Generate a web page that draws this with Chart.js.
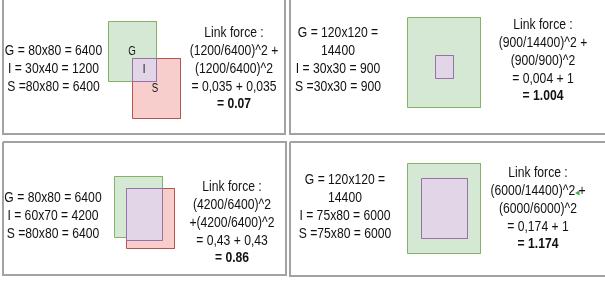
<html>
<head>
  <style>
    body { margin: 0; background: #fff; }
    #diagram { display: block; }
  </style>
</head>
<body>
  <canvas id="diagram" width="605" height="285"></canvas>

  <script src="https://cdn.jsdelivr.net/npm/chart.js"></script>
  <script>
    // rectangles [x0, y0, x1, y1] per panel, in picture units
    const rectG = [[108.5, 21.5, 156.5, 81.5], [407.5, 17.5, 480.5, 107.5], [114.5, 176.5, 162.5, 237.5], [407.5, 163.5, 480.5, 253.5]];
    const rectS = [[132.5, 58.5, 180.5, 118.5], null, [126.5, 188.5, 174.5, 248.5], null];
    const rectI = [[132.5, 58.5, 156.5, 81.5], [435.5, 55.5, 453.5, 78.5], [126.5, 188.5, 162.5, 240.5], [421.5, 178.5, 467.5, 238.5]];

    // box edges of the four panels
    const panelBoxes = [[3, -1, 285, 134], [290, -1, 610, 134], [3, 142, 286, 275], [290, 142, 610, 276]];

    // small green marker left in the last panel
    const cursorMark = [{ x: 578, y: 193 }];

    // text of each panel
    const sizeLines = [
      ['G = 80x80 = 6400', 'I = 30x40 = 1200', 'S =80x80 = 6400'],
      ['G = 120x120 =', '14400', 'I = 30x30 = 900', 'S =30x30 = 900'],
      ['G = 80x80 = 6400', 'I = 60x70 = 4200', 'S =80x80 = 6400'],
      ['G = 120x120 =', '14400', 'I = 75x80 = 6000', 'S =75x80 = 6000']
    ];
    const forceLines = [
      ['Link force :', '(1200/6400)^2 +', '(1200/6400)^2', '= 0,035 + 0,035'],
      ['Link force :', '(900/14400)^2 +', '(900/900)^2', '= 0,004 + 1'],
      ['Link force :', '(4200/6400)^2', '+(4200/6400)^2', '= 0,43 + 0,43'],
      ['Link force :', '(6000/14400)^2 +', '(6000/6000)^2', '= 0,174 + 1']
    ];
    const results = ['= 0.07', '= 1.004', '= 0.86', '= 1.174'];
    const shapeLabels = ['G', 'I', 'S'];

    // where each text block starts (centre x, first line middle y)
    const sizeAnchor = [[53.5, 51], [338, 33], [53, 198], [345, 180]];
    const forceAnchor = [[234, 33], [543, 25], [232, 187], [538, 173]];
    const labelAnchor = [[132, 52], [144, 70], [155, 89]];
    const lineGap = 17.8;

    const toPoly = r => [
      { x: r[0], y: r[1] }, { x: r[2], y: r[1] }, { x: r[2], y: r[3] },
      { x: r[0], y: r[3] }, { x: r[0], y: r[1] }
    ];

    const datasets = [];
    const addRect = (r, fillCol, lineCol) => {
      if (!r) return;
      datasets.push({
        data: toPoly(r), showLine: true, fill: 'shape',
        backgroundColor: fillCol, borderColor: lineCol, borderWidth: 1,
        pointRadius: 0, tension: 0
      });
    };
    for (let i = 0; i < 4; i++) {
      addRect(rectG[i], '#d5e8d4', '#82b366');
      addRect(rectS[i], '#f8cecc', '#b85450');
      addRect(rectI[i], '#e1d5e7', '#9673a6');
      datasets.push({
        data: toPoly(panelBoxes[i]), showLine: true, fill: false,
        borderColor: '#a2a2a2', borderWidth: 2, pointRadius: 0, tension: 0
      });
    }
    datasets.push({
      data: cursorMark, pointStyle: 'triangle', pointRadius: 3, rotation: 30,
      backgroundColor: '#3cb043', borderColor: '#3cb043', borderWidth: 0
    });
    // chart.js paints the first dataset last, so flip to get G under S under I
    datasets.reverse();

    const textPlugin = {
      id: 'panelText',
      afterDatasetsDraw(chart) {
        const ctx = chart.ctx;
        const xs = chart.scales.x, ys = chart.scales.y;
        const px = v => xs.getPixelForValue(v), py = v => ys.getPixelForValue(v);
        const font = '"Liberation Sans", Arial, sans-serif';
        // narrow look of the original text
        const put = (t, x, y) => {
          ctx.save();
          ctx.translate(px(x), py(y));
          ctx.scale(0.81, 1);
          ctx.fillText(t, 0, 0);
          ctx.restore();
        };
        ctx.save();
        ctx.fillStyle = '#111';
        ctx.textAlign = 'center';
        ctx.textBaseline = 'middle';
        ctx.font = '15px ' + font;
        for (let i = 0; i < 4; i++) {
          sizeLines[i].forEach((t, k) => put(t, sizeAnchor[i][0], sizeAnchor[i][1] + k * lineGap));
          forceLines[i].forEach((t, k) => put(t, forceAnchor[i][0], forceAnchor[i][1] + k * lineGap));
        }
        ctx.font = 'bold 15px ' + font;
        for (let i = 0; i < 4; i++) {
          put(results[i], forceAnchor[i][0], forceAnchor[i][1] + forceLines[i].length * lineGap);
        }
        ctx.font = '12px ' + font;
        shapeLabels.forEach((t, k) => put(t, labelAnchor[k][0], labelAnchor[k][1]));
        ctx.restore();
      }
    };

    new Chart(document.getElementById('diagram').getContext('2d'), {
      type: 'scatter',
      data: { datasets: datasets },
      options: {
        responsive: false,
        animation: false,
        layout: { padding: 0, autoPadding: false },
        plugins: { legend: { display: false }, tooltip: { enabled: false } },
        scales: {
          x: { type: 'linear', min: 0, max: 605, display: false },
          y: { type: 'linear', min: 0, max: 285, reverse: true, display: false }
        }
      },
      plugins: [textPlugin]
    });
  </script>
</body>
</html>
